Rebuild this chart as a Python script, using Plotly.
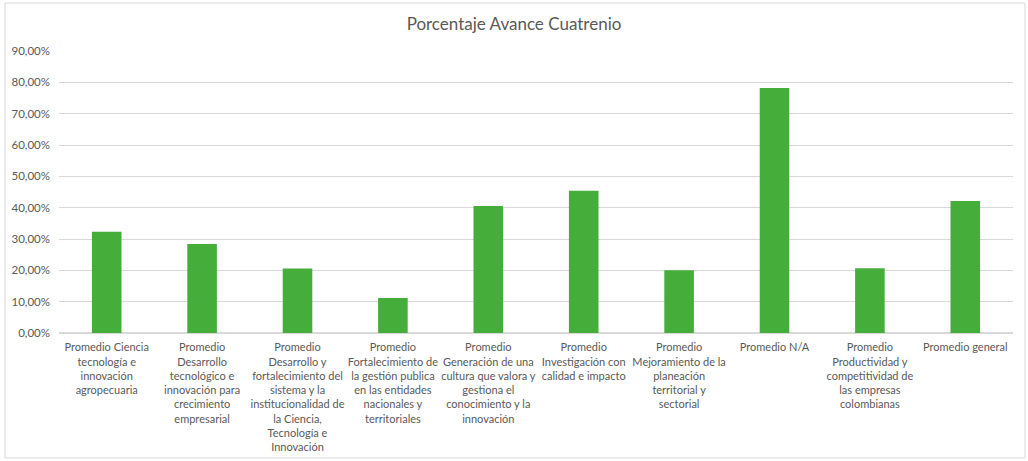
import plotly.graph_objects as go

title_text = "Porcentaje Avance Cuatrenio"

categories = [
    "Promedio Ciencia tecnología e innovación agropecuaria",
    "Promedio Desarrollo tecnológico e innovación para crecimiento empresarial",
    "Promedio Desarrollo y fortalecimiento del sistema y la institucionalidad de la Ciencia, Tecnología e Innovación",
    "Promedio Fortalecimiento de la gestión publica en las entidades nacionales y territoriales",
    "Promedio Generación de una cultura que valora y gestiona el conocimiento y la innovación",
    "Promedio Investigación con calidad e impacto",
    "Promedio Mejoramiento de la planeación territorial y sectorial",
    "Promedio N/A",
    "Promedio Productividad y competitividad de las empresas colombianas",
    "Promedio general",
]

tick_labels = [
    "Promedio Ciencia<br>tecnología e<br>innovación<br>agropecuaria",
    "Promedio<br>Desarrollo<br>tecnológico e<br>innovación para<br>crecimiento<br>empresarial",
    "Promedio<br>Desarrollo y<br>fortalecimiento del<br>sistema y la<br>institucionalidad de<br>la Ciencia,<br>Tecnología e<br>Innovación",
    "Promedio<br>Fortalecimiento de<br>la gestión publica<br>en las entidades<br>nacionales y<br>territoriales",
    "Promedio<br>Generación de una<br>cultura que valora y<br>gestiona el<br>conocimiento y la<br>innovación",
    "Promedio<br>Investigación con<br>calidad e impacto",
    "Promedio<br>Mejoramiento de la<br>planeación<br>territorial y<br>sectorial",
    "Promedio N/A",
    "Promedio<br>Productividad y<br>competitividad de<br>las empresas<br>colombianas",
    "Promedio general",
]

values = [0.323, 0.284, 0.206, 0.112, 0.405, 0.454, 0.200, 0.782, 0.207, 0.421]

y_ticks = [0, 0.1, 0.2, 0.3, 0.4, 0.5, 0.6, 0.7, 0.8, 0.9]

bar_color = "#45ad3a"
text_color = "#595959"
grid_color = "#d9d9d9"
font_family = "Lato, Open Sans, sans-serif"

fig = go.Figure(
    go.Bar(
        x=categories,
        y=values,
        marker=dict(color=bar_color, line=dict(width=0)),
    )
)

fig.update_layout(
    width=1028,
    height=461,
    margin=dict(l=59, r=15, t=51, b=128, autoexpand=False),
    paper_bgcolor="white",
    plot_bgcolor="white",
    separators=",.",
    bargap=0.69,
    showlegend=False,
    font=dict(family=font_family, color=text_color, size=11),
    title=dict(
        text=title_text,
        x=0.5,
        xanchor="center",
        y=0.948,
        yanchor="middle",
        font=dict(family=font_family, size=17, color=text_color),
    ),
    shapes=[
        dict(
            type="rect",
            xref="paper",
            yref="paper",
            x0=-0.0566,
            x1=1.0126,
            y0=-0.443,
            y1=1.17,
            line=dict(color=grid_color, width=1),
            fillcolor="rgba(0,0,0,0)",
            layer="below",
        )
    ],
)

fig.update_xaxes(
    tickmode="array",
    tickvals=categories,
    ticktext=tick_labels,
    tickangle=0,
    automargin=False,
    showgrid=False,
    showline=True,
    linecolor=grid_color,
    linewidth=1,
    ticks="",
    ticklabelstandoff=4,
    tickfont=dict(size=11, color=text_color),
)

fig.update_yaxes(
    range=[0, 0.9],
    tickvals=y_ticks,
    tickformat=".2%",
    automargin=False,
    showgrid=True,
    gridcolor=grid_color,
    gridwidth=1,
    zeroline=True,
    zerolinecolor=grid_color,
    showline=False,
    ticks="",
    ticklabelstandoff=8,
    tickfont=dict(size=11.5, color=text_color),
)

fig.write_html("out.html")
